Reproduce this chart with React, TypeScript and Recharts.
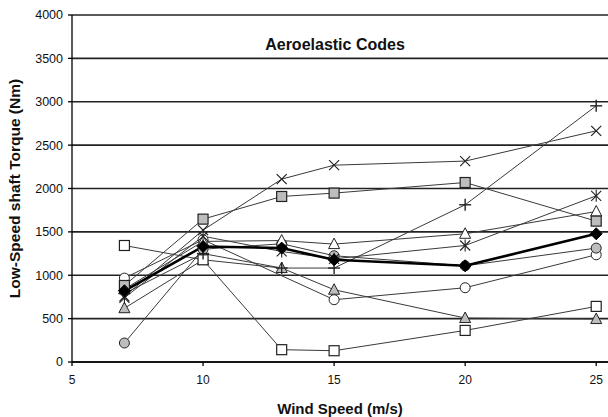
import React from "react";
import { LineChart, Line, XAxis, YAxis, CartesianGrid, Label } from "recharts";

const windSpeeds = [7, 10, 13, 15, 20, 25];
const openSquare = [1343, 1178, 142, 130, 364, 641];
const graySquare = [882, 1647, 1908, 1947, 2069, 1624];
const crossSeries = [756, 1520, 2108, 2269, 2316, 2665];
const plusSeries = [790, 1250, 1083, 1083, 1812, 2953];
const starSeries = [740, 1450, 1274, 1190, 1343, 1916];
const openTriangle = [840, 1390, 1400, 1359, 1478, 1735];
const grayTriangle = [620, 1178, 1083, 833, 507, 495];
const diamondSeries = [821, 1332, 1313, 1178, 1109, 1478];
const openCircle = [967, 1409, null, 718, 856, 1236];
const grayCircle = [219, 1300, 1363, 1225, 1109, 1313];

const xTicks = [5, 10, 15, 20, 25];
const yTicks = [0, 500, 1000, 1500, 2000, 2500, 3000, 3500, 4000];

const seriesDefs = [
  { key: "openCircle", values: openCircle, shape: "circle", fill: "#fff" },
  { key: "grayCircle", values: grayCircle, shape: "circle", fill: "#bdbdbd" },
  { key: "grayTriangle", values: grayTriangle, shape: "triangle", fill: "#bdbdbd" },
  { key: "openTriangle", values: openTriangle, shape: "triangle", fill: "#fff" },
  { key: "openSquare", values: openSquare, shape: "square", fill: "#fff" },
  { key: "graySquare", values: graySquare, shape: "square", fill: "#bdbdbd" },
  { key: "cross", values: crossSeries, shape: "cross", fill: "none" },
  { key: "plus", values: plusSeries, shape: "plus", fill: "none" },
  { key: "star", values: starSeries, shape: "star", fill: "none" },
  { key: "diamond", values: diamondSeries, shape: "diamond", fill: "#000" },
];

const data = windSpeeds.map((x, i) => {
  const row: any = { x };
  seriesDefs.forEach((s) => {
    row[s.key] = s.values[i];
  });
  return row;
});

const FONT = "Arial, 'Liberation Sans', sans-serif";

function makeDot(shape: string, fill: string) {
  return (props: any) => {
    const { cx, cy, index, value } = props;
    const k = `${shape}-${index}`;
    if (cx == null || cy == null || value == null) return <g key={k} />;
    const s = 5;
    const stroke = "#222";
    switch (shape) {
      case "circle":
        return <circle key={k} cx={cx} cy={cy} r={5} fill={fill} stroke={stroke} strokeWidth={1} />;
      case "square":
        return <rect key={k} x={cx - s} y={cy - s} width={2 * s} height={2 * s} fill={fill} stroke={stroke} strokeWidth={1.2} />;
      case "triangle":
        return (
          <polygon key={k} points={`${cx},${cy - 6} ${cx - 5.5},${cy + 4.5} ${cx + 5.5},${cy + 4.5}`} fill={fill} stroke={stroke} strokeWidth={1} />
        );
      case "diamond":
        return (
          <polygon key={k} points={`${cx},${cy - 6} ${cx + 6},${cy} ${cx},${cy + 6} ${cx - 6},${cy}`} fill="#000" stroke="#000" strokeWidth={1} />
        );
      case "cross":
        return (
          <g key={k} stroke={stroke} strokeWidth={1.2}>
            <line x1={cx - 5} y1={cy - 5} x2={cx + 5} y2={cy + 5} />
            <line x1={cx - 5} y1={cy + 5} x2={cx + 5} y2={cy - 5} />
          </g>
        );
      case "plus":
        return (
          <g key={k} stroke={stroke} strokeWidth={1.4}>
            <line x1={cx - 6} y1={cy} x2={cx + 6} y2={cy} />
            <line x1={cx} y1={cy - 6} x2={cx} y2={cy + 6} />
          </g>
        );
      case "star":
        return (
          <g key={k} stroke={stroke} strokeWidth={1.1}>
            <line x1={cx - 5} y1={cy - 5} x2={cx + 5} y2={cy + 5} />
            <line x1={cx - 5} y1={cy + 5} x2={cx + 5} y2={cy - 5} />
            <line x1={cx} y1={cy - 6} x2={cx} y2={cy + 6} />
          </g>
        );
      default:
        return <g key={k} />;
    }
  };
}

export default function App() {
  return (
    <div style={{ position: "absolute", left: 0, top: 0, width: 608, height: 417, background: "#fff", fontFamily: FONT }}>
      <LineChart width={608} height={417} data={data} margin={{ top: 15, right: 0, bottom: 0, left: 0 }}>
        <CartesianGrid vertical={false} stroke="#222" strokeWidth={1.7} />
        <XAxis
          dataKey="x"
          type="number"
          domain={[5, 25.45]}
          ticks={xTicks}
          allowDataOverflow
          height={55}
          stroke="#000"
          strokeWidth={1.3}
          tickSize={4}
          tickMargin={9}
          tick={{ fill: "#111", fontSize: 12, fontFamily: FONT }}
          tickLine={{ stroke: "#000" }}
        >
          <Label
            value="Wind Speed (m/s)"
            position="insideBottom"
            offset={3}
            style={{ fontSize: 15, fontWeight: "bold", fill: "#111", fontFamily: FONT }}
          />
        </XAxis>
        <YAxis
          type="number"
          domain={[0, 4000]}
          ticks={yTicks}
          width={72}
          stroke="#000"
          strokeWidth={1.3}
          tickSize={4}
          tickMargin={5}
          tick={{ fill: "#111", fontSize: 12.5, fontFamily: FONT }}
        >
          <Label
            value="Low-Speed shaft Torque (Nm)"
            angle={-90}
            position="insideLeft"
            offset={14}
            style={{ textAnchor: "middle", fontSize: 15.5, fontWeight: "bold", fill: "#111", fontFamily: FONT }}
          />
        </YAxis>
        {seriesDefs.map((s) => (
          <Line
            key={s.key}
            dataKey={s.key}
            type="linear"
            stroke={s.shape === "diamond" ? "#000" : "#3a3a3a"}
            strokeWidth={s.shape === "diamond" ? 2.6 : 1}
            dot={makeDot(s.shape, s.fill)}
            connectNulls
            isAnimationActive={false}
          />
        ))}
        <text x={335} y={50} textAnchor="middle" style={{ fontSize: 16, fontWeight: "bold", fill: "#111", fontFamily: FONT }}>
          Aeroelastic Codes
        </text>
      </LineChart>
    </div>
  );
}
